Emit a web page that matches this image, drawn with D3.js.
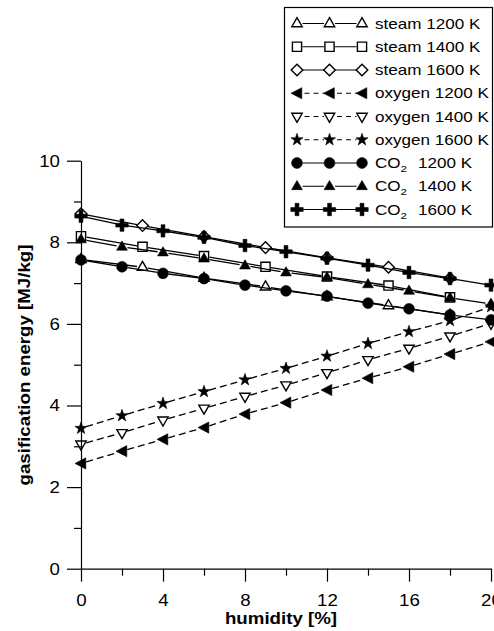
<!DOCTYPE html>
<html>
<head>
<meta charset="utf-8">
<script src="https://cdn.jsdelivr.net/npm/d3@7"></script>
<style>
  body { margin: 0; background: #fff; overflow: hidden; }
  svg { display: block; font-family: "Liberation Sans", Arial, sans-serif; }
</style>
</head>
<body>
<div id="chart"></div>
<script>
// humidity values where each family has markers
const steamX = [0, 3, 6, 9, 12, 15, 18];
const gasX = [0, 2, 4, 6, 8, 10, 12, 14, 16, 18, 20];

// gasification energy [MJ/kg]
const steam1200 = [7.58, 7.39, 7.12, 6.91, 6.67, 6.45, 6.22];
const steam1400 = [8.15, 7.89, 7.66, 7.40, 7.16, 6.94, 6.65];
const steam1600 = [8.70, 8.41, 8.14, 7.87, 7.62, 7.39, 7.12];
const oxygen1200 = [2.58, 2.88, 3.17, 3.46, 3.79, 4.07, 4.38, 4.67, 4.95, 5.26, 5.56];
const oxygen1400 = [3.05, 3.33, 3.64, 3.93, 4.22, 4.50, 4.80, 5.12, 5.40, 5.70, 6.01];
const oxygen1600 = [3.44, 3.75, 4.05, 4.34, 4.63, 4.91, 5.21, 5.52, 5.81, 6.08, 6.42];
const co2_1200 = [7.57, 7.40, 7.24, 7.11, 6.95, 6.81, 6.68, 6.51, 6.37, 6.22, 6.10];
const co2_1400 = [8.07, 7.89, 7.75, 7.60, 7.43, 7.26, 7.14, 6.97, 6.81, 6.64, 6.49];
const co2_1600 = [8.64, 8.42, 8.28, 8.12, 7.92, 7.77, 7.61, 7.44, 7.26, 7.11, 6.95];

const xMajor = [0, 4, 8, 12, 16, 20];
const xMinor = [2, 6, 10, 14, 18];
const yMajor = [0, 2, 4, 6, 8, 10];
const yMinor = [1, 3, 5, 7, 9];

const xTitle = "humidity [%]";
const yTitle = "gasification energy [MJ/kg]";

// marker shapes (custom d3 symbol types, size ignored)
function poly(pts) {
    return { draw(ctx) { ctx.moveTo(pts[0][0], pts[0][1]); for (let i = 1; i < pts.length; i++) ctx.lineTo(pts[i][0], pts[i][1]); ctx.closePath(); } };
}
const triUp = poly([[0, -5.8], [5.2, 3.2], [-5.2, 3.2]]);
const triUpFull = poly([[0, -5.8], [5.4, 3.4], [-5.4, 3.4]]);
const triDown = poly([[0, 5.8], [5.2, -3.2], [-5.2, -3.2]]);
const triLeft = poly([[-6, 0], [4.8, -5.6], [4.8, 5.6]]);
const square = poly([[-4.6, -4.6], [4.6, -4.6], [4.6, 4.6], [-4.6, 4.6]]);
const diamond = poly([[0, -5.8], [5.8, 0], [0, 5.8], [-5.8, 0]]);
const starPts = d3.range(10).map(i => {
    const r = i % 2 ? 2.5 : 6.4, a = -Math.PI / 2 + i * Math.PI / 5;
    return [r * Math.cos(a), r * Math.sin(a)];
});
const star = poly(starPts);
const t = 1.9, a = 6.2;
const plus = poly([[-t, -a], [t, -a], [t, -t], [a, -t], [a, t], [t, t], [t, a], [-t, a], [-t, t], [-a, t], [-a, -t], [-t, -t]]);
const circle = { draw(ctx) { ctx.moveTo(5.4, 0); ctx.arc(0, 0, 5.4, 0, 2 * Math.PI); } };

const series = [
    { label: "steam 1200 K", x: steamX, y: steam1200, shape: triUp, filled: false, dash: null },
    { label: "steam 1400 K", x: steamX, y: steam1400, shape: square, filled: false, dash: null },
    { label: "steam 1600 K", x: steamX, y: steam1600, shape: diamond, filled: false, dash: null },
    { label: "oxygen 1200 K", x: gasX, y: oxygen1200, shape: triLeft, filled: true, dash: "7,4" },
    { label: "oxygen 1400 K", x: gasX, y: oxygen1400, shape: triDown, filled: false, dash: "7,4" },
    { label: "oxygen 1600 K", x: gasX, y: oxygen1600, shape: star, filled: true, dash: "7,4" },
    { label: "CO2|1200 K", x: gasX, y: co2_1200, shape: circle, filled: true, dash: null },
    { label: "CO2|1400 K", x: gasX, y: co2_1400, shape: triUpFull, filled: true, dash: null },
    { label: "CO2|1600 K", x: gasX, y: co2_1600, shape: plus, filled: true, dash: null }
];

const W = 494, H = 631;
const SX = 1.1;    // text in the source is drawn a little wide
const LSX = 1.22;  // legend text even wider

const svg = d3.select("#chart").append("svg").attr("width", W).attr("height", H);

const x = d3.scaleLinear().domain([0, 20]).range([81, 491]);
const y = d3.scaleLinear().domain([0, 10]).range([568.7, 160.7]);

// segments with a gap round each marker
function gapped(pts, gap) {
    let d = "";
    for (let i = 0; i < pts.length - 1; i++) {
        const [x0, y0] = pts[i], [x1, y1] = pts[i + 1];
        const len = Math.hypot(x1 - x0, y1 - y0);
        if (len <= 2 * gap) continue;
        const ux = (x1 - x0) / len, uy = (y1 - y0) / len;
        d += `M${x0 + ux * gap},${y0 + uy * gap}L${x1 - ux * gap},${y1 - uy * gap}`;
    }
    return d;
}

function stretch(sel, px, py, sx, rot) {
    sel.attr("x", 0).attr("y", 0)
        .attr("transform", `translate(${px},${py})${rot ? " rotate(" + rot + ")" : ""} scale(${sx},1)`);
}

// axes
const yAxis = svg.append("g").attr("transform", "translate(81,0)")
    .call(d3.axisLeft(y).tickValues(yMajor).tickSize(14).tickSizeOuter(0).tickPadding(7));
svg.append("g").attr("transform", "translate(81,0)")
    .call(d3.axisLeft(y).tickValues(yMinor).tickSize(7).tickSizeOuter(0).tickFormat(""))
    .select(".domain").remove();
const xAxis = svg.append("g").attr("transform", "translate(0,568.7)")
    .call(d3.axisBottom(x).tickValues(xMajor).tickSize(13).tickSizeOuter(0).tickPadding(12));
svg.append("g").attr("transform", "translate(0,568.7)")
    .call(d3.axisBottom(x).tickValues(xMinor).tickSize(7).tickSizeOuter(0).tickFormat(""))
    .select(".domain").remove();

svg.selectAll(".domain, .tick line").attr("stroke", "#000").attr("stroke-width", 1.2);
svg.selectAll(".tick text").attr("font-size", 17).attr("fill", "#000")
    .attr("font-family", "Liberation Sans, Arial, sans-serif");
yAxis.selectAll(".tick text").each(function () {
    const s = d3.select(this), px = +s.attr("x");
    s.attr("x", 0).attr("transform", `translate(${px},0) scale(${SX},1)`);
});
xAxis.selectAll(".tick text").each(function () {
    const s = d3.select(this), py = +s.attr("y");
    s.attr("y", 0).attr("transform", `translate(0,${py}) scale(${SX},1)`);
});

svg.append("text").attr("font-size", 17).attr("font-weight", "bold").attr("text-anchor", "middle")
    .text(xTitle).call(stretch, 281, 624, SX);
svg.append("text").attr("font-size", 17).attr("font-weight", "bold").attr("text-anchor", "middle")
    .text(yTitle).call(stretch, 29.5, 365, SX, -90);

// data
const plot = svg.append("g");
series.forEach(s => {
    const pts = s.x.map((v, i) => [x(v), y(s.y[i])]);
    plot.append("path").attr("d", gapped(pts, 5.5)).attr("fill", "none")
        .attr("stroke", "#000").attr("stroke-width", 1.3)
        .attr("stroke-dasharray", s.dash);
    plot.selectAll(null).data(pts).enter().append("path")
        .attr("d", d3.symbol().type(s.shape)())
        .attr("transform", p => `translate(${p[0]},${p[1]})`)
        .attr("fill", s.filled ? "#000" : "none")
        .attr("stroke", "#000").attr("stroke-width", s.filled ? 0.6 : 1.4);
});

// legend
const leg = svg.append("g");
leg.append("rect").attr("x", 284.5).attr("y", 7.5).attr("width", 208).attr("height", 219.5)
    .attr("fill", "#fff").attr("stroke", "#000").attr("stroke-width", 1.2);
const legX = [297, 329.5, 362];
series.forEach((s, i) => {
    const cy = 23.5 + i * 23.25;
    const pts = legX.map(v => [v, cy]);
    leg.append("path").attr("d", gapped(pts, 5.5)).attr("fill", "none")
        .attr("stroke", "#000").attr("stroke-width", 1.2)
        .attr("stroke-dasharray", s.dash ? "5,4" : null)
        .attr("stroke-dashoffset", s.dash ? -2 : null);
    leg.selectAll(null).data(pts).enter().append("path")
        .attr("d", d3.symbol().type(s.shape)())
        .attr("transform", p => `translate(${p[0]},${p[1]})`)
        .attr("fill", s.filled ? "#000" : "none")
        .attr("stroke", "#000").attr("stroke-width", s.filled ? 0.6 : 1.4);
    const txt = leg.append("text").attr("font-size", 14).call(stretch, 375, cy + 5, LSX);
    if (s.label.includes("|")) {
        const [gas, temp] = s.label.split("|");
        txt.append("tspan").text(gas.slice(0, 2));
        txt.append("tspan").attr("font-size", 9.5).attr("dy", 4).text(gas.slice(2));
        txt.append("tspan").attr("dy", -4).attr("dx", 9).text(temp);
    } else {
        txt.text(s.label);
    }
});
</script>
</body>
</html>
